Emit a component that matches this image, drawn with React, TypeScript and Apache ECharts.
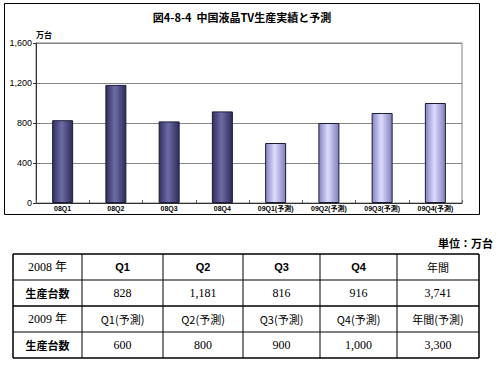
import React, { useEffect, useRef } from "react";
import * as echarts from "echarts";

const title = "図4-8-4  中国液晶TV生産実績と予測";
const unitAxis = "万台";
const unitTable = "単位：万台";
const categories = ["08Q1", "08Q2", "08Q3", "08Q4", "09Q1(予測)", "09Q2(予測)", "09Q3(予測)", "09Q4(予測)"];
const values = [828, 1181, 816, 916, 600, 800, 900, 1000];
const isForecast = [false, false, false, false, true, true, true, true];
const yTicks = { min: 0, max: 1600, interval: 400 };

const tHeader2008 = ["2008 年", "Q1", "Q2", "Q3", "Q4", "年間"];
const tRow2008 = ["生産台数", "828", "1,181", "816", "916", "3,741"];
const tHeader2009 = ["2009 年", "Q1(予測)", "Q2(予測)", "Q3(予測)", "Q4(予測)", "年間(予測)"];
const tRow2009 = ["生産台数", "600", "800", "900", "1,000", "3,300"];

const colX = [13, 82, 163, 243, 320, 397, 479];
const rowY = [254, 280, 306, 332, 358];

const darkGrad = () =>
  new echarts.graphic.LinearGradient(0, 0, 1, 0, [
    { offset: 0, color: "#30305e" },
    { offset: 0.45, color: "#6c6ca6" },
    { offset: 1, color: "#2c2c5a" },
  ]);
const lightGrad = () =>
  new echarts.graphic.LinearGradient(0, 0, 1, 0, [
    { offset: 0, color: "#8484c0" },
    { offset: 0.45, color: "#dcdcff" },
    { offset: 1, color: "#7e7eb8" },
  ]);

export default function App() {
  const ref = useRef<HTMLDivElement>(null);
  useEffect(() => {
    if (!ref.current) return;
    const chart = echarts.init(ref.current, null, { renderer: "svg" });

    const serif = "'Liberation Serif', 'Noto Sans CJK JP', serif";
    const sans = "'Liberation Sans', 'Noto Sans CJK JP', sans-serif";
    const cjk = "'Noto Sans CJK JP', 'Liberation Sans', sans-serif";

    const graphics: any[] = [];
    // outer chart frame
    graphics.push({
      type: "rect",
      shape: { x: 4.5, y: 3.5, width: 475, height: 211 },
      style: { fill: "none", stroke: "#000", lineWidth: 1 },
      silent: true,
    });
    graphics.push({
      type: "text",
      x: 242,
      y: 17,
      style: { text: title, fill: "#000", font: `bold 11px ${cjk}`, align: "center", verticalAlign: "middle" },
    });
    graphics.push({
      type: "text",
      x: 493,
      y: 243,
      style: { text: unitTable, fill: "#000", font: `bold 11px ${cjk}`, align: "right", verticalAlign: "middle" },
    });
    // table lines
    rowY.forEach((y, i) => {
      const w = i === 0 || i === rowY.length - 1 || i === 2 ? 1.5 : 1;
      graphics.push({
        type: "line",
        shape: { x1: colX[0], y1: y, x2: colX[colX.length - 1], y2: y },
        style: { stroke: "#000", lineWidth: w },
      });
    });
    colX.forEach((x, i) => {
      const w = i === 0 || i === colX.length - 1 ? 1.5 : 1;
      graphics.push({
        type: "line",
        shape: { x1: x, y1: rowY[0], x2: x, y2: rowY[rowY.length - 1] },
        style: { stroke: "#000", lineWidth: w },
      });
    });
    const rows = [tHeader2008, tRow2008, tHeader2009, tRow2009];
    rows.forEach((row, r) => {
      row.forEach((txt, c) => {
        let font = `12px ${serif}`;
        if (c === 0 && (r === 1 || r === 3)) font = `bold 11px ${cjk}`;
        else if (c === 0) font = `12px ${serif}`;
        else if (r === 0) font = txt === "年間" ? `11px ${cjk}` : `bold 11px ${sans}`;
        else if (r === 2) font = `11px ${cjk}`;
        graphics.push({
          type: "text",
          x: (colX[c] + colX[c + 1]) / 2,
          y: (rowY[r] + rowY[r + 1]) / 2,
          style: { text: txt, fill: "#000", font, align: "center", verticalAlign: "middle" },
        });
      });
    });

    chart.setOption({
      animation: false,
      backgroundColor: "#fff",
      grid: { left: 36, top: 43, width: 426, height: 160, show: true, borderColor: "#808080", borderWidth: 1 },
      xAxis: {
        type: "category",
        data: categories,
        boundaryGap: true,
        axisLine: { show: true, lineStyle: { color: "#303030", width: 1 } },
        axisTick: { show: true, inside: true, length: 3, lineStyle: { color: "#606060" } },
        axisLabel: { fontSize: 7, fontWeight: "bold", color: "#000", margin: 2, interval: 0, fontFamily: sans },
      },
      yAxis: {
        type: "value",
        min: yTicks.min,
        max: yTicks.max,
        interval: yTicks.interval,
        name: unitAxis,
        nameLocation: "end",
        nameGap: 5,
        nameTextStyle: { fontSize: 8, fontWeight: "bold", color: "#000", align: "left", padding: [0, 0, 0, 0], fontFamily: cjk },
        axisLine: { show: true, lineStyle: { color: "#303030", width: 1 } },
        axisTick: { show: true, length: 3, lineStyle: { color: "#303030" } },
        axisLabel: {
          fontSize: 9,
          color: "#000",
          margin: 4,
          fontFamily: sans,
          formatter: (v: number) => v.toLocaleString("en-US"),
        },
        splitLine: { show: true, lineStyle: { color: "#888", width: 1 } },
      },
      series: [
        {
          type: "bar",
          barWidth: 21,
          data: values.map((v, i) => ({
            value: v,
            itemStyle: {
              color: isForecast[i] ? lightGrad() : darkGrad(),
              borderColor: "#1c1c38",
              borderWidth: 1,
            },
          })),
        },
      ],
      graphic: graphics,
    });
    return () => chart.dispose();
  }, []);
  return <div ref={ref} style={{ position: "fixed", left: 0, top: 0, width: 500, height: 365 }} />;
}
